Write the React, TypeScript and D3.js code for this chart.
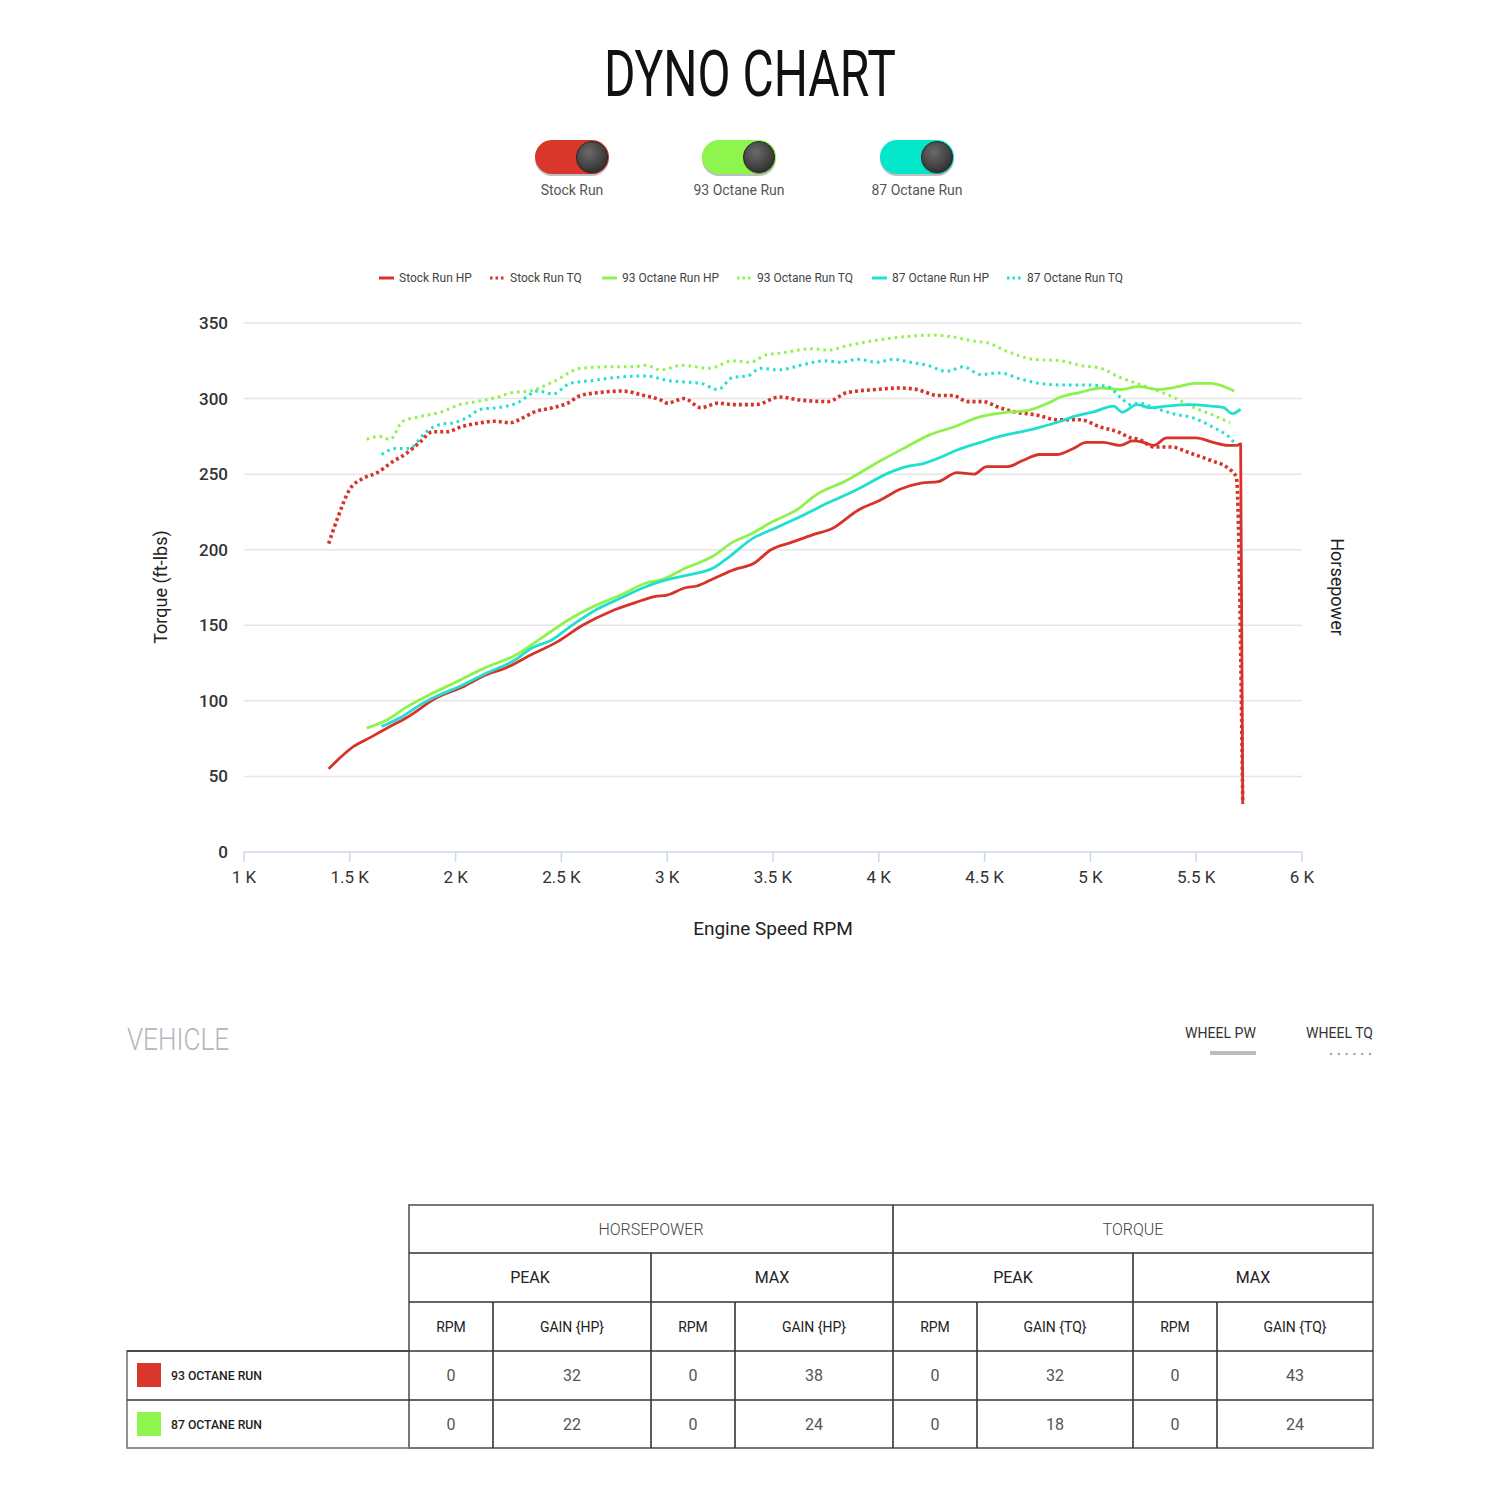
import React from "react";
import * as d3 from "d3";

// ---------- DATA ----------
const xTicks = [1000, 1500, 2000, 2500, 3000, 3500, 4000, 4500, 5000, 5500, 6000];
const xTickLabels = ["1 K", "1.5 K", "2 K", "2.5 K", "3 K", "3.5 K", "4 K", "4.5 K", "5 K", "5.5 K", "6 K"];
const yTicks = [0, 50, 100, 150, 200, 250, 300, 350];

const stockHpRpm = [1400,1520,1600,1690,1770,1910,2030,2140,2240,2350,2480,2600,2730,2850,2940,3000,3090,3140,3220,3320,3410,3490,3590,3690,3780,3900,4010,4100,4200,4280,4370,4450,4510,4610,4680,4760,4840,4920,4980,5060,5140,5200,5250,5300,5360,5420,5500,5580,5650,5690,5710,5720];
const stockHp = [55,70,76,83,89,102,109,117,122,130,139,150,159,165,169,170,175,176,181,187,191,200,205,210,214,226,233,240,244,245,251,250,255,255,259,263,263,267,271,271,269,272,271,269,274,274,274,271,269,269,270,32];

const stockTqRpm = [1400,1440,1500,1560,1630,1700,1770,1830,1890,1960,2020,2120,2180,2260,2300,2370,2460,2530,2590,2680,2790,2890,2970,3000,3080,3160,3240,3310,3420,3530,3630,3760,3850,3990,4100,4180,4280,4350,4420,4490,4570,4650,4750,4840,4950,5050,5130,5190,5230,5300,5380,5470,5570,5650,5690,5720];
const stockTq = [204,220,240,247,251,258,264,271,278,278,281,284,285,284,286,291,294,297,302,304,305,302,299,297,300,294,297,296,296,301,299,298,304,306,307,306,302,302,298,298,294,291,289,286,286,281,278,274,273,268,268,264,259,254,248,32];

const oct93HpRpm = [1580,1670,1770,1890,2010,2140,2280,2410,2550,2660,2780,2900,2970,3090,3220,3310,3390,3490,3630,3690,3850,4010,4130,4240,4350,4480,4610,4700,4800,4860,4950,5050,5140,5230,5320,5420,5490,5570,5630,5680];
const oct93Hp = [82,87,96,105,113,122,130,142,155,163,170,178,180,188,196,205,210,218,228,235,246,259,268,276,281,288,291,292,297,301,304,307,306,308,306,308,310,310,308,305];

const oct93TqRpm = [1580,1640,1690,1750,1830,1930,2020,2100,2200,2270,2350,2460,2590,2720,2840,2900,2970,3070,3200,3310,3390,3470,3530,3690,3760,3850,4010,4130,4260,4340,4450,4510,4610,4730,4860,4950,5050,5140,5220,5300,5390,5490,5580,5660];
const oct93Tq = [273,275,273,285,288,291,296,298,301,304,305,311,320,321,321,322,319,322,320,325,324,329,330,333,332,335,339,341,342,341,338,337,331,326,325,322,320,314,310,306,301,294,289,284];

const oct87HpRpm = [1650,1740,1840,1910,2010,2140,2280,2360,2450,2550,2660,2780,2890,2970,3090,3220,3290,3410,3490,3630,3760,3900,4050,4130,4210,4290,4370,4480,4570,4670,4760,4860,4920,5010,5110,5150,5220,5280,5360,5470,5570,5630,5670,5710];
const oct87Hp = [83,89,98,103,109,118,127,135,140,150,160,168,175,179,183,188,195,208,213,222,231,240,251,255,257,261,266,271,275,278,281,285,288,291,295,291,296,294,295,296,295,294,290,293];

const oct87TqRpm = [1650,1720,1780,1860,1930,1990,2050,2120,2200,2290,2390,2460,2540,2650,2760,2900,3000,3080,3160,3240,3310,3380,3440,3530,3630,3740,3820,3900,3990,4070,4150,4230,4320,4400,4480,4570,4670,4760,4870,4980,5080,5140,5190,5230,5300,5390,5490,5580,5660,5690];
const oct87Tq = [263,267,267,278,283,284,287,293,294,297,305,303,310,312,314,315,312,311,310,306,314,315,320,319,322,325,324,326,324,326,324,322,318,321,316,317,313,310,309,309,308,301,296,297,294,290,287,281,274,269];

const runNames = ["Stock Run", "93 Octane Run", "87 Octane Run"];
const runColors = ["#d7332b", "#8ef24c", "#1fe0cf"];
const toggleColors = ["#d9362c", "#8ef54c", "#04e6c9"];

const legendNames = ["Stock Run HP", "Stock Run TQ", "93 Octane Run HP", "93 Octane Run TQ", "87 Octane Run HP", "87 Octane Run TQ"];

const tableRowNames = ["93 OCTANE RUN", "87 OCTANE RUN"];
const tableRowColors = ["#d9362c", "#8ef54c"];
const hpPeakRpm = [0, 0];
const hpPeakGain = [32, 22];
const hpMaxRpm = [0, 0];
const hpMaxGain = [38, 24];
const tqPeakRpm = [0, 0];
const tqPeakGain = [32, 18];
const tqMaxRpm = [0, 0];
const tqMaxGain = [43, 24];

// ---------- LAYOUT ----------
const FONT = "Roboto, sans-serif";
const x = d3.scaleLinear().domain([1000, 6000]).range([244, 1302]);
const y = d3.scaleLinear().domain([0, 350]).range([852, 323]);

const series = [
  { rpm: stockHpRpm, val: stockHp, color: runColors[0], dotted: false, w: 2.8, dash: "" },
  { rpm: stockTqRpm, val: stockTq, color: runColors[0], dotted: true, w: 3.6, dash: "3,3" },
  { rpm: oct93HpRpm, val: oct93Hp, color: runColors[1], dotted: false, w: 2.8, dash: "" },
  { rpm: oct93TqRpm, val: oct93Tq, color: runColors[1], dotted: true, w: 3, dash: "2.6,4" },
  { rpm: oct87HpRpm, val: oct87Hp, color: runColors[2], dotted: false, w: 2.8, dash: "" },
  { rpm: oct87TqRpm, val: oct87Tq, color: runColors[2], dotted: true, w: 3, dash: "2.6,4" },
];

const lineGen = d3
  .line<[number, number]>()
  .x((d) => x(d[0]))
  .y((d) => y(d[1]))
  .curve(d3.curveMonotoneX);

const legendX = [379, 490, 602, 737, 872, 1007];
const toggleCx = [572, 739, 917];

const colX = [409, 493, 651, 735, 893, 977, 1133, 1217, 1373];
const rowY = [1205, 1253, 1302, 1351, 1400, 1448];

function Toggle({ cx, color, label }: { cx: number; color: string; label: string }) {
  const w = 74, h = 34, top = 140;
  const left = cx - 37;
  return (
    <g>
      <rect x={left} y={top + 2} width={w} height={h} rx={h / 2} fill="#000" opacity={0.25} />
      <rect x={left} y={top} width={w} height={h} rx={h / 2} fill={color} />
      <circle cx={left + w - 17} cy={top + 18} r={16} fill="#111" opacity={0.35} />
      <circle cx={left + w - 17} cy={top + 17} r={15.5} fill="url(#knob)" stroke="#2a2a2a" strokeWidth={1} />
      <text x={cx} y={195} textAnchor="middle" fontFamily={FONT} fontSize={14} fill="#555">
        {label}
      </text>
    </g>
  );
}

export default function App() {
  const cell = (cx: number, cy: number, t: string | number, size: number, fill: string, weight = 400) => (
    <text x={cx} y={cy + size * 0.36} textAnchor="middle" fontFamily={FONT} fontSize={size} fill={fill} fontWeight={weight}>
      {t}
    </text>
  );
  const mid = (a: number, b: number) => (a + b) / 2;
  const rowsData = tableRowNames.map((n, i) => [hpPeakRpm[i], hpPeakGain[i], hpMaxRpm[i], hpMaxGain[i], tqPeakRpm[i], tqPeakGain[i], tqMaxRpm[i], tqMaxGain[i]]);
  const subHeads = ["RPM", "GAIN {HP}", "RPM", "GAIN {HP}", "RPM", "GAIN {TQ}", "RPM", "GAIN {TQ}"];

  return (
    <svg width={1500} height={1500} style={{ position: "absolute", left: 0, top: 0, background: "#fff" }}>
      <defs>
        <radialGradient id="knob" cx="40%" cy="35%" r="70%">
          <stop offset="0%" stopColor="#6a6a6a" />
          <stop offset="100%" stopColor="#2e2e2e" />
        </radialGradient>
      </defs>
      <rect width={1500} height={1500} fill="#fff" />

      {/* Title */}
      <text x={750} y={96} textAnchor="middle" fontFamily={FONT} fontSize={64} fill="#111" textLength={292} lengthAdjust="spacingAndGlyphs">
        DYNO CHART
      </text>

      {/* Toggles */}
      {runNames.map((n, i) => (
        <Toggle key={n} cx={toggleCx[i]} color={toggleColors[i]} label={n} />
      ))}

      {/* Legend */}
      {legendNames.map((n, i) => {
        const s = series[i];
        const lx = legendX[i];
        return (
          <g key={n}>
            {s.dotted ? (
              <line x1={lx} x2={lx + 15} y1={278} y2={278} stroke={s.color} strokeWidth={3} strokeDasharray="2.5,3" />
            ) : (
              <line x1={lx} x2={lx + 15} y1={278} y2={278} stroke={s.color} strokeWidth={3} />
            )}
            <text x={lx + 20} y={282} fontFamily={FONT} fontSize={12} fill="#444">
              {n}
            </text>
          </g>
        );
      })}

      {/* Grid */}
      {yTicks.filter((t) => t > 0).map((t) => (
        <line key={t} x1={244} x2={1302} y1={y(t)} y2={y(t)} stroke="#e6e6e6" strokeWidth={1.5} />
      ))}
      <line x1={244} x2={1302} y1={y(0)} y2={y(0)} stroke="#ccd6eb" strokeWidth={1.5} />
      {xTicks.map((t, i) => (
        <g key={t}>
          <line x1={x(t)} x2={x(t)} y1={852} y2={862} stroke="#ccd6eb" strokeWidth={1.5} />
          <text x={x(t)} y={883} textAnchor="middle" fontFamily={FONT} fontSize={17} fill="#333">
            {xTickLabels[i]}
          </text>
        </g>
      ))}
      {yTicks.map((t) => (
        <text key={t} x={228} y={y(t) + 6} textAnchor="end" fontFamily={FONT} fontSize={17} fontWeight={500} fill="#333">
          {t}
        </text>
      ))}

      {/* Axis titles */}
      <text x={773} y={935} textAnchor="middle" fontFamily={FONT} fontSize={19} fill="#222">
        Engine Speed RPM
      </text>
      <text transform={`translate(167,587) rotate(-90)`} textAnchor="middle" fontFamily={FONT} fontSize={18} fill="#222">
        Torque (ft-lbs)
      </text>
      <text transform={`translate(1331,587) rotate(90)`} textAnchor="middle" fontFamily={FONT} fontSize={18} fill="#222">
        Horsepower
      </text>

      {/* Series */}
      {series.map((s, i) => {
        const pts = s.rpm.map((r, j) => [r, s.val[j]] as [number, number]);
        return (
          <path
            key={i}
            d={lineGen(pts) || ""}
            fill="none"
            stroke={s.color}
            strokeWidth={s.w}
            strokeDasharray={s.dotted ? s.dash : undefined}
            strokeLinejoin="round"
          />
        );
      })}

      {/* Vehicle section */}
      <text x={127} y={1050} fontFamily={FONT} fontSize={32} fontWeight={300} fill="#b3b7bf" textLength={102} lengthAdjust="spacingAndGlyphs">
        VEHICLE
      </text>
      <text x={1185} y={1038} fontFamily={FONT} fontSize={15} fill="#333" textLength={71} lengthAdjust="spacingAndGlyphs">
        WHEEL PW
      </text>
      <rect x={1210} y={1051} width={46} height={4} fill="#bcbcbc" />
      <text x={1306} y={1038} fontFamily={FONT} fontSize={15} fill="#333" textLength={67} lengthAdjust="spacingAndGlyphs">
        WHEEL TQ
      </text>
      {[0, 1, 2, 3, 4, 5].map((k) => (
        <circle key={k} cx={1331 + k * 7.8} cy={1054} r={1.3} fill="#aaa" />
      ))}

      {/* Table */}
      <g>
        <rect x={colX[0]} y={rowY[0]} width={colX[8] - colX[0]} height={rowY[5] - rowY[0]} fill="none" stroke="#555" strokeWidth={1.6} />
        <rect x={127} y={rowY[3]} width={colX[0] - 127} height={rowY[5] - rowY[3]} fill="none" stroke="#777" strokeWidth={1.6} />
        {[1, 2, 3, 4].map((r) => (
          <line key={r} x1={r >= 3 ? 127 : colX[0]} x2={colX[8]} y1={rowY[r]} y2={rowY[r]} stroke="#333" strokeWidth={1.6} />
        ))}
        <line x1={colX[4]} x2={colX[4]} y1={rowY[0]} y2={rowY[5]} stroke="#333" strokeWidth={1.6} />
        {[2, 6].map((c) => (
          <line key={c} x1={colX[c]} x2={colX[c]} y1={rowY[1]} y2={rowY[5]} stroke="#333" strokeWidth={1.6} />
        ))}
        {[1, 3, 5, 7].map((c) => (
          <line key={c} x1={colX[c]} x2={colX[c]} y1={rowY[2]} y2={rowY[5]} stroke="#333" strokeWidth={1.6} />
        ))}
        {cell(mid(colX[0], colX[4]), mid(rowY[0], rowY[1]), "HORSEPOWER", 16, "#444", 300)}
        {cell(mid(colX[4], colX[8]), mid(rowY[0], rowY[1]), "TORQUE", 16, "#444", 300)}
        {["PEAK", "MAX", "PEAK", "MAX"].map((t, k) => (
          <g key={k}>{cell(mid(colX[k * 2], colX[k * 2 + 2]), mid(rowY[1], rowY[2]), t, 16, "#222", 400)}</g>
        ))}
        {subHeads.map((t, k) => (
          <g key={k}>{cell(mid(colX[k], colX[k + 1]), mid(rowY[2], rowY[3]), t, 14, "#222", 400)}</g>
        ))}
        {rowsData.map((vals, r) => (
          <g key={r}>
            <rect x={137} y={rowY[3 + r] + 12} width={24} height={24} fill={tableRowColors[r]} />
            <text x={171} y={rowY[3 + r] + 28.5} fontFamily={FONT} fontSize={12} fontWeight={500} fill="#222" textLength={91} lengthAdjust="spacingAndGlyphs">
              {tableRowNames[r]}
            </text>
            {vals.map((v, k) => (
              <g key={k}>{cell(mid(colX[k], colX[k + 1]), mid(rowY[3 + r], rowY[4 + r]), v, 16, "#555", 400)}</g>
            ))}
          </g>
        ))}
      </g>
    </svg>
  );
}
